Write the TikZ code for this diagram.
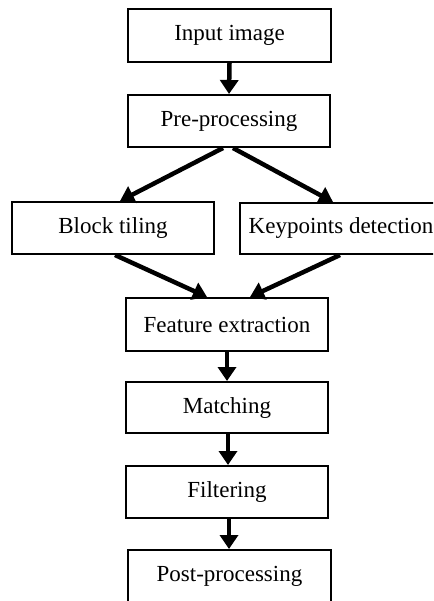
\documentclass[tikz,border=0pt]{standalone}
\usepackage{fontspec}
\setmainfont{Liberation Serif}
\usetikzlibrary{arrows.meta}
\begin{document}
\begin{tikzpicture}[x=1pt,y=1pt,
  box/.style={draw=black, line width=2pt, fill=white, minimum width=202pt, minimum height=52pt, inner sep=0pt,
    font=\fontsize{23}{27}\selectfont},
  arr/.style={line width=4.5pt, -{Triangle[length=14pt,width=18pt]}}]
\clip (0,0) rectangle (433,-601);
\fill[white] (0,0) rectangle (433,-601);
\node[box, minimum width=203pt, minimum height=53pt] (in) at (229.5,-35.5) {Input image};
\node[box] (pre) at (229,-121) {Pre-processing};
\node[box] (bt) at (113,-228) {Block tiling};
\node[box, minimum height=51pt] (kd) at (341,-228.5) {Keypoints detection};
\node[box, minimum height=53pt] (fe) at (227,-324.5) {Feature extraction};
\node[box, minimum height=51pt] (ma) at (227,-407.5) {Matching};
\node[box] (fi) at (227,-492) {Filtering};
\node[box, minimum width=203pt] (pp) at (229.5,-576) {Post-processing};
\draw[arr] (in.south) -- (pre.north);
\draw[arr] ([xshift=-6pt]pre.south) -- ([xshift=7pt]bt.north);
\draw[arr] ([xshift=4pt]pre.south) -- ([xshift=-8pt]kd.north);
\draw[arr] ([xshift=2pt]bt.south) -- ([xshift=-20pt]fe.north);
\draw[arr] ([xshift=-1pt]kd.south) -- ([xshift=23pt]fe.north);
\draw[arr] (fe.south) -- (ma.north);
\draw[arr] ([xshift=1pt]ma.south) -- ([xshift=1pt]fi.north);
\draw[arr] ([xshift=2pt]fi.south) -- ([xshift=-0.5pt]pp.north);
\end{tikzpicture}
\end{document}
